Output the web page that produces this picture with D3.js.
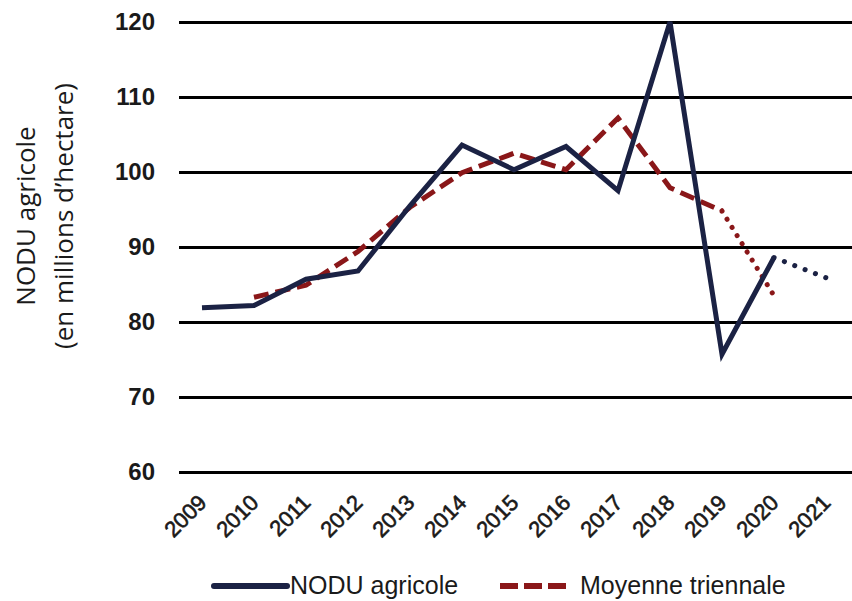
<!DOCTYPE html>
<html>
<head>
<meta charset="utf-8">
<script src="https://cdn.jsdelivr.net/npm/d3@7"></script>
<style>
  body { margin: 0; background: #fff; }
  svg { display: block; font-family: "Liberation Sans", Arial, sans-serif; }
</style>
</head>
<body>
<svg id="chart" width="852" height="601"></svg>
<script>
const YEARS = ["2009", "2010", "2011", "2012", "2013", "2014", "2015", "2016", "2017", "2018", "2019", "2020", "2021"];
const NODU = [81.9, 82.2, 85.7, 86.8, 95.5, 103.6, 100.3, 103.4, 97.5, 120.0, 75.7, 88.6, null];
const NODU_PROVISOIRE = [null, null, null, null, null, null, null, null, null, null, null, 88.6, 85.9];
const MOYENNE = [null, 83.3, 84.9, 89.4, 95.3, 99.9, 102.5, 100.3, 107.2, 97.9, 94.8, null, null];
const MOYENNE_PROVISOIRE = [null, null, null, null, null, null, null, null, null, null, 94.8, 83.5, null];
const Y_TICKS = [60, 70, 80, 90, 100, 110, 120];

const NAVY = "#1b2244";
const RED = "#8a1719";

const svg = d3.select("#chart");
const x = d3.scaleBand().domain(YEARS).range([176, 852]);
const y = d3.scaleLinear().domain([60, 120]).range([472, 22]);
const cx = d => x(d) + x.bandwidth() / 2;

// grid + y labels
const yAxis = svg.append("g")
    .attr("transform", "translate(179,0)")
    .call(d3.axisLeft(y).tickValues(Y_TICKS).tickSize(-680).tickPadding(24));
yAxis.select(".domain").remove();
yAxis.selectAll(".tick line").attr("stroke", "#000").attr("stroke-width", 3);
yAxis.selectAll(".tick text")
    .attr("font-size", 24).attr("font-weight", "bold").attr("fill", "#1a1a1a")
    .attr("font-family", "Liberation Sans, Arial, sans-serif");

// x labels
svg.append("g").selectAll("text")
    .data(YEARS)
    .join("text")
    .attr("transform", d => `translate(${cx(d) + 6},${504}) rotate(-45)`)
    .attr("text-anchor", "end")
    .attr("font-size", 22)
    .attr("fill", "#1a1a1a")
    .attr("stroke", "#1a1a1a")
    .attr("stroke-width", 0.6)
    .text(d => d);

// y title
const title = svg.append("text")
    .attr("transform", "translate(0,216) rotate(-90)")
    .attr("text-anchor", "middle")
    .attr("font-family", "Open Sans, sans-serif")
    .attr("font-size", 26)
    .attr("fill", "#1a1a1a");
title.append("tspan").attr("x", 0).attr("y", 35).text("NODU agricole");
title.append("tspan").attr("x", 0).attr("y", 73).text("(en millions d’hectare)");

function drawLine(values, color, dash, cap) {
    const line = d3.line()
        .defined(d => d[1] !== null)
        .x(d => cx(d[0]))
        .y(d => y(d[1]));
    svg.append("path")
        .datum(YEARS.map((yr, i) => [yr, values[i]]))
        .attr("d", line)
        .attr("fill", "none")
        .attr("stroke", color)
        .attr("stroke-width", 5)
        .attr("stroke-linecap", cap)
        .attr("stroke-dasharray", dash);
}

drawLine(MOYENNE, RED, "15,7", "butt");
drawLine(MOYENNE_PROVISOIRE, RED, "0.1,9.5", "round");
drawLine(NODU, NAVY, null, "butt");
drawLine(NODU_PROVISOIRE, NAVY, "0.1,11", "round");

// legend
const legend = svg.append("g").attr("font-size", 25).attr("fill", "#1a1a1a");
legend.append("line")
    .attr("x1", 214).attr("x2", 287).attr("y1", 586).attr("y2", 586)
    .attr("stroke", NAVY).attr("stroke-width", 6).attr("stroke-linecap", "round");
legend.append("text").attr("x", 290).attr("y", 594).text("NODU agricole");
legend.append("line")
    .attr("x1", 500).attr("x2", 567).attr("y1", 586).attr("y2", 586)
    .attr("stroke", RED).attr("stroke-width", 6).attr("stroke-dasharray", "18,6");
legend.append("text").attr("x", 580).attr("y", 594).text("Moyenne triennale");
</script>
</body>
</html>
